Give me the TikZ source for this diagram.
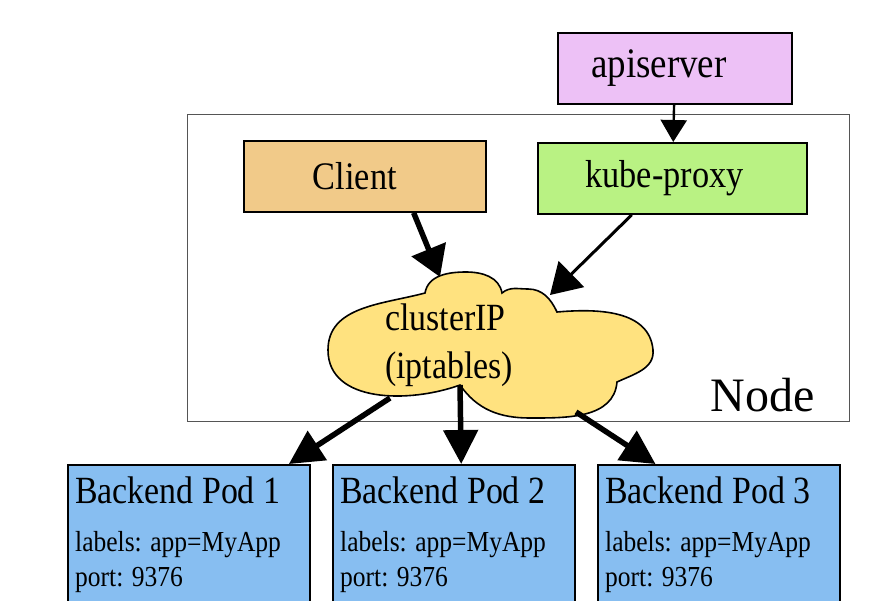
\documentclass[tikz,border=0pt]{standalone}
\usepackage{fontspec}
\setmainfont{Liberation Serif}
\usetikzlibrary{arrows.meta, calc}
\definecolor{apiviolet}{HTML}{EDC1F6}
\definecolor{clientorange}{HTML}{F1CA89}
\definecolor{proxygreen}{HTML}{B9F283}
\definecolor{cloudyellow}{HTML}{FFE27F}
\definecolor{podblue}{HTML}{87BEF1}
\definecolor{framegray}{HTML}{555555}
\newcommand{\nrw}[1]{\scalebox{0.88}[1]{#1}}

\begin{document}
\begin{tikzpicture}[
    x=1pt, y=-1pt,
    box/.style={
        draw=black, line width=1.8pt, inner sep=0pt, anchor=north west
    },
    topbox/.style={ box, font=\fontsize{39}{44}\selectfont },
    pod/.style={ box, fill=podblue, minimum width=242pt, minimum height=180pt },
    podtitle/.style={ inner sep=0pt, anchor=base west, font=\fontsize{38.5}{44}\selectfont },
    poddetail/.style={ inner sep=0pt, anchor=base west, font=\fontsize{29}{34}\selectfont },
    fat/.style={ line width=5.5pt, -{Triangle[length=34pt,width=34pt]} },
    slim/.style={ line width=2.4pt, -{Triangle[length=22pt,width=26pt]} },
]
\useasboundingbox (0,0) rectangle (893,600);
\clip (0,0) rectangle (893,600);

% ---- node frame ----
\node[draw=framegray, line width=0.9pt, minimum width=662pt, minimum height=307pt,
      inner sep=0pt, anchor=north west] (nodeframe) at (187,114) {};
\node[inner sep=0pt, anchor=base east, font=\fontsize{48}{52}\selectfont]
    (nodelabel) at (815,411) {Node};

% ---- top boxes ----
\node[topbox, fill=apiviolet, minimum width=234pt, minimum height=71pt,
      font=\fontsize{42}{46}\selectfont] (apiserver) at (557,32) {\nrw{apiserver}\hspace*{32pt}};
\node[topbox, fill=clientorange, minimum width=242pt, minimum height=71pt]
    (client) at (243,140) {\nrw{Client}\hspace*{20pt}};
\node[topbox, fill=proxygreen, minimum width=269pt, minimum height=71pt]
    (kube) at (537,142) {\nrw{kube-proxy}\hspace*{16pt}};

% ---- clusterIP cloud ----
\draw[fill=cloudyellow, line width=1.6pt]
    (460,385) to[out=200,in=-90] (328,350) to[out=90,in=195] (425,293)
    to[out=80,in=180] (466,272) to[out=0,in=100] (502,293)
    to[out=40,in=180] (528,289) to[out=0,in=115] (557,312)
    to[out=5,in=95] (653,350) to[out=-85,in=25] (617,382)
    to[out=-95,in=0] (530,418) to[out=180,in=-55] (460,385) -- cycle;
\node[podtitle] (cluster1) at (385,330) {\nrw{clusterIP}};
\node[podtitle] (cluster2) at (385,378) {\nrw{(iptables)}};

\coordinate (cin1) at (440,277);
\coordinate (cin2) at (550,295);
\coordinate (cout1) at (390,398);
\coordinate (cout2) at (460,385);
\coordinate (cout3) at (576,412);

% ---- backend pods ----
\foreach \i/\x in {1/67, 2/332, 3/597} {
    \node[pod] (pod\i) at (\x,464) {};
    \node[podtitle] (pod\i title) at ($(pod\i.north west)+(8,39)$) {\nrw{Backend Pod \i}};
    \node[poddetail] (pod\i labels) at ($(pod\i.north west)+(8,87)$) {\nrw{labels: app=MyApp}};
    \node[poddetail] (pod\i port) at ($(pod\i.north west)+(8,122)$) {\nrw{port: 9376}};
}

% ---- connectors ----
\draw[slim] (apiserver) -- (kube);
\draw[fat, -{Triangle[length=30pt,width=36pt]}]
    ($(client.south west)!0.7!(client.south east)$) -- (cin1);
\draw[fat, line width=3pt, -{Triangle[length=30pt,width=36pt]}]
    ($(kube.south west)!0.35!(kube.south east)$) -- (cin2);
\draw[fat] (cout1) -- ($(pod1.north west)!0.91!(pod1.north east)$);
\draw[fat] (cout2) -- ($(pod2.north west)!0.53!(pod2.north east)$);
\draw[fat] (cout3) -- ($(pod3.north west)!0.24!(pod3.north east)$);

\end{tikzpicture}
\end{document}
